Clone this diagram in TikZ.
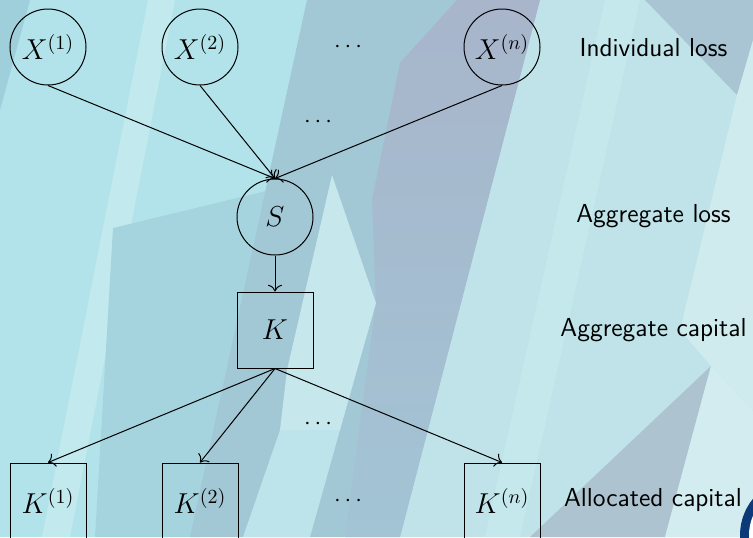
\documentclass[tikz,border=0pt]{standalone}
\usetikzlibrary{arrows.meta}
\begin{document}
\begin{tikzpicture}[x=0.5pt,y=-0.5pt,
  var/.style={circle,draw,line width=0.5pt,minimum size=38pt,inner sep=0pt,font=\fontsize{14}{16}\selectfont},
  capbox/.style={rectangle,draw,line width=0.5pt,minimum size=38pt,inner sep=0pt,font=\fontsize{14}{16}\selectfont},
  lab/.style={font=\sffamily\fontsize{13}{15}\selectfont,inner sep=0pt},
  dotsnode/.style={font=\fontsize{13}{15}\selectfont,inner sep=0pt},
  arr/.style={-{To[scale=1.25]},line width=0.5pt}]
\useasboundingbox (0,0) rectangle (753,537);
\begin{scope}
\clip (0,0) rectangle (753,537);
% background
\fill[fill={rgb,255:red,178;green,227;blue,234}] (0,0) rectangle (753,537);
\fill[fill={rgb,255:red,159;green,207;blue,219}] (0,0) -- (30,0) -- (0,110) -- cycle;
\fill[fill={rgb,255:red,194;green,233;blue,237}] (148,0) -- (175,0) -- (70,537) -- (42,537) -- cycle;
\fill[fill={rgb,255:red,166;green,212;blue,222}] (113,228) -- (332,175) -- (287,370) -- (200,537) -- (95,537) -- cycle;
\fill[fill={rgb,255:red,162;green,199;blue,213}] (307,0) -- (540,0) -- (400,537) -- (190,537) -- cycle;
\fill[fill={rgb,255:red,191;green,227;blue,232}] (540,0) -- (753,0) -- (753,537) -- (400,537) -- cycle;
\fill[fill={rgb,255:red,197;green,232;blue,236}] (605,0) -- (640,0) -- (520,537) -- (485,537) -- cycle;
\shade[top color={rgb,255:red,168;green,181;blue,203}, bottom color={rgb,255:red,162;green,196;blue,212}]
  (457,0) -- (540,0) -- (400,537) -- (345,537) -- (376,303) -- (372,200) -- (400,63) -- cycle;
\fill[fill={rgb,255:red,198;green,231;blue,235}] (332,175) -- (376,303) -- (340,430) -- (280,430) -- (287,370) -- cycle;
\fill[fill={rgb,255:red,188;green,228;blue,234}] (280,430) -- (340,430) -- (310,537) -- (243,537) -- cycle;
\fill[fill={rgb,255:red,169;green,196;blue,211}] (645,0) -- (753,0) -- (753,60) -- (737,95) -- cycle;
\fill[fill={rgb,255:red,208;green,235;blue,238}] (753,40) -- (737,95) -- (680,330) -- (711,366) -- (753,411) -- cycle;
\fill[fill={rgb,255:red,174;green,195;blue,208}] (711,366) -- (530,537) -- (665,537) -- cycle;
\fill[fill={rgb,255:red,210;green,236;blue,239}] (711,366) -- (753,411) -- (753,537) -- (665,537) -- cycle;
% logo ring
\fill[fill={rgb,255:red,12;green,58;blue,120}] (797,535) circle[radius=28.5pt];
\fill[white] (797,535) circle[radius=24pt];
% nodes
\node[var] (x1) at (48,47) {$X^{(1)}$};
\node[var] (x2) at (200,47) {$X^{(2)}$};
\node[dotsnode] (xd) at (348,47) {$\cdots$};
\node[var] (xn) at (502,47) {$X^{(n)}$};
\node[lab] (l1) at (653.5,48) {Individual loss};
\node[dotsnode] (md1) at (318,122) {$\cdots$};
\node[var] (s) at (275,217) {$S$};
\node[lab] (l2) at (653.5,216) {Aggregate loss};
\node[capbox] (k) at (275,330) {$K$};
\node[lab] (l3) at (653.5,330) {Aggregate capital};
\node[dotsnode] (md2) at (318,424) {$\cdots$};
\node[capbox] (k1) at (48,501) {$K^{(1)}$};
\node[capbox] (k2) at (200,501) {$K^{(2)}$};
\node[dotsnode] (kd) at (348,501) {$\cdots$};
\node[capbox] (kn) at (502,501) {$K^{(n)}$};
\node[lab] (l4) at (653,500) {Allocated capital};
% edges
\draw[arr] (x1.south) -- (s.north);
\draw[arr] (x2.south) -- (s.north);
\draw[arr] (xn.south) -- (s.north);
\draw[arr] (s.south) -- (k.north);
\draw[arr] (k.south) -- (k1.north);
\draw[arr] (k.south) -- (k2.north);
\draw[arr] (k.south) -- (kn.north);
\end{scope}
\end{tikzpicture}
\end{document}
